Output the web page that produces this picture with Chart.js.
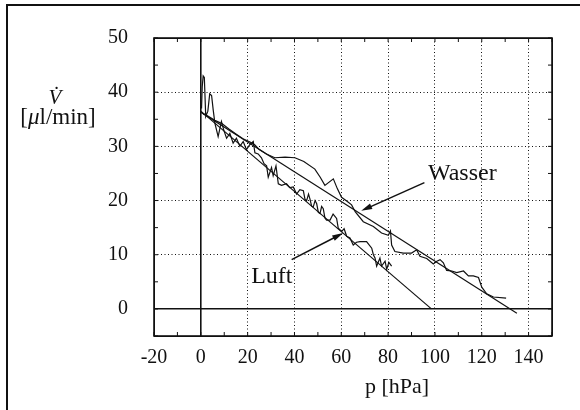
<!DOCTYPE html>
<html>
<head>
<meta charset="utf-8">
<script src="https://cdn.jsdelivr.net/npm/chart.js@4"></script>
<style>
  html, body { margin: 0; padding: 0; background: #fff; }
  #wrap { width: 580px; height: 410px; }
</style>
</head>
<body>
<div id="wrap"><canvas id="chart" width="580" height="410"></canvas></div>
<script>
// axis ticks
const xGrid = [-20, 0, 20, 40, 60, 80, 100, 120, 140, 150];
const xLabels = [-20, 0, 20, 40, 60, 80, 100, 120, 140];
const yGrid = [-5, 0, 10, 20, 30, 40, 50];
const yLabels = [0, 10, 20, 30, 40, 50];

// measured curve, water
const wasserX = [1, 3, 6, 9, 12, 15, 18, 21, 23, 25, 28, 31.6, 36, 40.2, 44, 48.7, 51, 53, 56.6, 58.3,
  60.1, 62.3, 64.4, 66, 69.4, 73.7, 77.2, 80.1, 81, 81.5, 82.9, 86.5, 90, 92.2, 93.6, 96.5, 99.3,
  100.8, 102.2, 103.6, 105, 107.2, 109.3, 112.2, 114.3, 116.4, 118.6, 120, 122.1, 125, 130.4];
const wasserY = [36.0, 35.6, 34.8, 34.2, 33.2, 32.3, 31.4, 30.8, 30.3, 29.4, 28.6, 27.9, 28.0, 27.9, 27.2, 25.8, 24.3, 22.8, 24.0, 22.2,
  20.6, 19.9, 19.2, 17.9, 16.1, 15.2, 14.0, 13.6, 14.4, 11.8, 10.6, 10.3, 10.3, 10.9, 9.7, 9.3, 8.3,
  8.8, 9.1, 8.5, 7.1, 7.0, 6.7, 7.0, 6.1, 6.1, 5.8, 4.0, 2.8, 2.2, 2.0];

// measured curve, air
const luftX = [0.3, 0.6, 1.0, 1.5, 2.1, 3.0, 3.8, 4.6, 5.3, 6.0, 7.4, 8.8, 9.8, 11, 12.4, 13.8, 15.2, 16.7, 18.1, 19.5,
  20.9, 22.4, 23.1, 24.5, 25.9, 27, 28.1, 28.8, 30.2, 30.9, 32.1, 33.1, 34.5, 36.6, 38, 39.5, 40.9, 42.3, 43.8,
  44.5, 45.2, 46, 46.6, 47.3, 48, 48.8, 49.5, 50.2, 50.9, 51.6, 52.3, 53, 53.7, 55.2, 56.5, 58, 58.7, 60.2,
  61.2, 62.3, 63.7, 65.1, 66.5, 68, 70.8, 73, 73.7, 74.4, 75.1, 76.5, 77.2, 78.7, 79.4, 80.3, 81.5];
const luftY = [37.0, 41.0, 43.0, 42.7, 35.5, 36.5, 39.7, 39.4, 36.7, 34.3, 31.8, 34.6, 33.0, 31.5, 32.4, 30.6, 31.5, 30.0, 30.9, 29.4,
  30.3, 30.9, 28.8, 28.6, 27.9, 26.8, 26.4, 24.3, 26.1, 24.6, 26.4, 23.1, 22.8, 23.1, 22.4, 22.5, 21.2, 22.0, 21.8,
  20.2, 20.0, 21.2, 20.3, 19.0, 18.8, 20.0, 19.4, 17.8, 17.6, 18.9, 18.5, 16.8, 16.4, 16.4, 17.5, 16.7, 14.9, 14.3,
  14.8, 13.4, 13.1, 11.8, 12.3, 12.4, 12.4, 11.2, 10.0, 9.4, 7.9, 9.4, 7.9, 8.8, 7.3, 8.6, 7.9];

// fitted straight lines
const wasserFitX = [0, 135];
const wasserFitY = [36.3, -0.8];
const luftFitX = [0, 98.5];
const luftFitY = [36.5, 0];

// curve labels with arrows
const labelText = ['Wasser', 'Luft'];
const labelX = [97, 21.5];
const labelY = [23.8, 4.7];
const arrowTailX = [95.5, 38.8];
const arrowTailY = [23.3, 9.1];
const arrowTipX = [68.5, 60.8];
const arrowTipY = [18.1, 14.0];

const serif = 'Liberation Serif';

function pts(xs, ys) {
  return xs.map((x, i) => ({ x: x, y: ys[i] }));
}

function lineSet(xs, ys) {
  return {
    data: pts(xs, ys),
    showLine: true,
    borderColor: '#111',
    borderWidth: 1.2,
    pointRadius: 0,
    tension: 0,
    fill: false
  };
}

function solidAt(v, xs) {
  return v === 0 || v === xs[0] || v === xs[xs.length - 1];
}

const decor = {
  id: 'decor',
  afterDraw(chart) {
    const { ctx, chartArea: a, scales: { x, y } } = chart;
    ctx.save();
    ctx.fillStyle = '#111';
    ctx.strokeStyle = '#111';

    // page border (left and top)
    ctx.fillRect(6, 4, 2, 406);
    ctx.fillRect(6, 4, 574, 2);

    // plot frame
    ctx.lineWidth = 1.6;
    ctx.strokeRect(a.left, a.top, a.right - a.left, a.bottom - a.top);

    // minor ticks, inward
    ctx.lineWidth = 1;
    ctx.beginPath();
    for (let v = -20; v <= 150; v += 10) {
      const px = x.getPixelForValue(v);
      ctx.moveTo(px, a.bottom); ctx.lineTo(px, a.bottom - 4);
      ctx.moveTo(px, a.top); ctx.lineTo(px, a.top + 4);
    }
    for (let v = -5; v <= 50; v += 5) {
      const py = y.getPixelForValue(v);
      ctx.moveTo(a.left, py); ctx.lineTo(a.left + 4, py);
      ctx.moveTo(a.right, py); ctx.lineTo(a.right - 4, py);
    }
    ctx.stroke();

    // arrows
    for (let i = 0; i < labelText.length; i++) {
      const x0 = x.getPixelForValue(arrowTailX[i]), y0 = y.getPixelForValue(arrowTailY[i]);
      const x1 = x.getPixelForValue(arrowTipX[i]), y1 = y.getPixelForValue(arrowTipY[i]);
      const ang = Math.atan2(y1 - y0, x1 - x0);
      ctx.lineWidth = 1.5;
      ctx.beginPath();
      ctx.moveTo(x0, y0);
      ctx.lineTo(x1 - 8 * Math.cos(ang), y1 - 8 * Math.sin(ang));
      ctx.stroke();
      ctx.beginPath();
      ctx.moveTo(x1, y1);
      ctx.lineTo(x1 - 11 * Math.cos(ang) + 3 * Math.sin(ang), y1 - 11 * Math.sin(ang) - 3 * Math.cos(ang));
      ctx.lineTo(x1 - 11 * Math.cos(ang) - 3 * Math.sin(ang), y1 - 11 * Math.sin(ang) + 3 * Math.cos(ang));
      ctx.closePath();
      ctx.fill();

      ctx.font = '24px "' + serif + '"';
      ctx.textAlign = 'left';
      ctx.textBaseline = 'alphabetic';
      ctx.fillText(labelText[i], x.getPixelForValue(labelX[i]), y.getPixelForValue(labelY[i]));
    }

    // x axis title
    ctx.font = '22px "' + serif + '"';
    ctx.textAlign = 'center';
    ctx.fillText('p [hPa]', 397, 393);

    // y axis title: V dot over [µl/min]
    ctx.font = 'italic 21px "' + serif + '"';
    ctx.fillText('V\u0307', 55, 104);
    const parts = [['[', ''], ['\u03bc', 'italic '], ['l/min]', '']];
    let total = 0;
    parts.forEach(p => { ctx.font = p[1] + '23px "' + serif + '"'; total += ctx.measureText(p[0]).width; });
    let cx = 58 - total / 2;
    ctx.textAlign = 'left';
    parts.forEach(p => {
      ctx.font = p[1] + '23px "' + serif + '"';
      ctx.fillText(p[0], cx, 124);
      cx += ctx.measureText(p[0]).width;
    });
    ctx.restore();
  }
};

new Chart(document.getElementById('chart').getContext('2d'), {
  type: 'scatter',
  data: {
    datasets: [
      lineSet(wasserX, wasserY),
      lineSet(luftX, luftY),
      lineSet(wasserFitX, wasserFitY),
      lineSet(luftFitX, luftFitY)
    ]
  },
  options: {
    responsive: false,
    animation: false,
    layout: { padding: { left: 0, right: 28, top: 33, bottom: 0 } },
    plugins: { legend: { display: false }, tooltip: { enabled: false } },
    scales: {
      x: {
        type: 'linear',
        min: -20,
        max: 150,
        afterBuildTicks: s => { s.ticks = xGrid.map(v => ({ value: v })); },
        afterFit: s => { s.height = 74; },
        ticks: {
          callback: v => xLabels.includes(v) ? String(v) : '',
          font: { family: serif, size: 20 },
          color: '#111',
          padding: 10,
          maxRotation: 0,
          autoSkip: false
        },
        grid: {
          drawTicks: false,
          color: '#111',
          lineWidth: c => (c.tick && c.tick.value === 0) ? 1.6 : 1,
          borderDash: c => (c.tick && solidAt(c.tick.value, xGrid)) ? [] : [1, 2.5]
        },
        border: {
          display: false,
          dash: c => (c.tick && !solidAt(c.tick.value, xGrid)) ? [1, 2.5] : []
        }
      },
      y: {
        type: 'linear',
        min: -5,
        max: 50,
        afterBuildTicks: s => { s.ticks = yGrid.map(v => ({ value: v })); },
        afterFit: s => { s.width = 154; },
        ticks: {
          callback: v => yLabels.includes(v) ? String(v) : '',
          font: { family: serif, size: 20 },
          color: '#111',
          padding: 26,
          autoSkip: false
        },
        grid: {
          drawTicks: false,
          color: '#111',
          lineWidth: c => (c.tick && c.tick.value === 0) ? 1.6 : 1,
          borderDash: c => (c.tick && solidAt(c.tick.value, yGrid)) ? [] : [1, 2.5]
        },
        border: {
          display: false,
          dash: c => (c.tick && !solidAt(c.tick.value, yGrid)) ? [1, 2.5] : []
        }
      }
    }
  },
  plugins: [decor]
});
</script>
</body>
</html>
